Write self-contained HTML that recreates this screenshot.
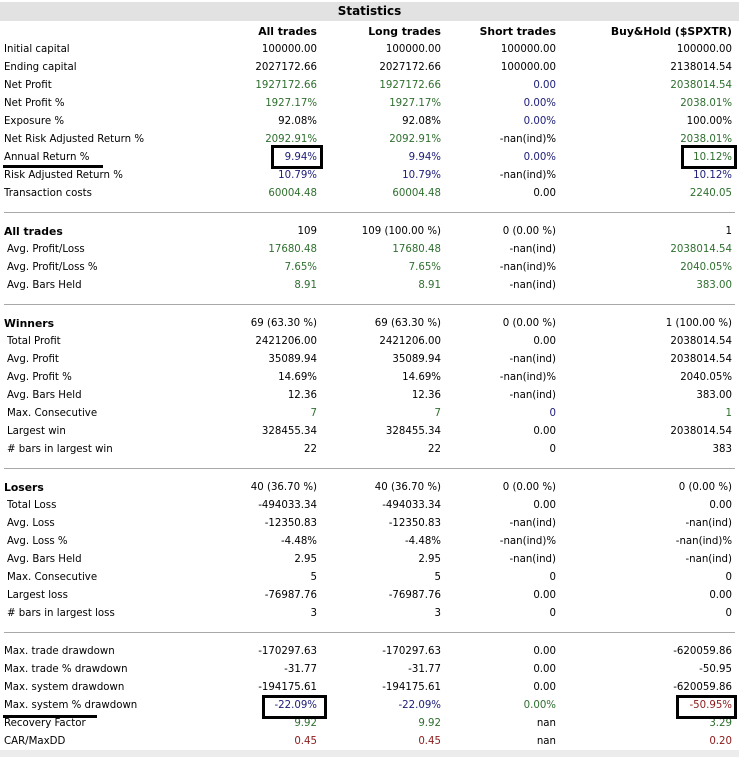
<!DOCTYPE html>
<html><head><meta charset="utf-8"><style>
body{margin:0;width:739px;height:757px;background:#fff;position:relative;overflow:hidden;font-family:"DejaVu Sans","Liberation Sans",sans-serif;font-size:10.2px;color:#000}
.r{position:absolute;left:0;width:739px;height:16px;line-height:16px}
.r span{position:absolute;white-space:nowrap}
.l{left:4px}.s{left:7px}
.a{right:422px}.b{right:298px}.c{right:183px}.d{right:7px}
.g{color:#2f6f2f}.u{color:#1c1c78}.x{color:#8a1a1a}
.bd{font-weight:bold;font-size:10.8px}
.hr{position:absolute;left:4px;width:731px;height:1px;background:#a8a8a8}
.box{position:absolute;border:3px solid #000;box-sizing:border-box}
.ul{position:absolute;height:3px;background:#000}
</style></head><body>
<div style="position:absolute;left:0;top:2px;width:739px;height:19px;background:#e2e2e2"></div>
<div style="position:absolute;left:0;top:2px;width:739px;height:19px;line-height:19px;text-align:center;font-weight:bold;font-size:12px">Statistics</div>
<div style="position:absolute;left:0;top:750px;width:739px;height:7px;background:#ececec"></div>

<div class="r bd" style="top:24px"><span class="a">All trades</span><span class="b">Long trades</span><span class="c">Short trades</span><span class="d">Buy&amp;Hold ($SPXTR)</span></div>

<div class="r" style="top:42px"><span class="l">Initial capital</span><span class="a">100000.00</span><span class="b">100000.00</span><span class="c">100000.00</span><span class="d">100000.00</span></div>
<div class="r" style="top:60px"><span class="l">Ending capital</span><span class="a">2027172.66</span><span class="b">2027172.66</span><span class="c">100000.00</span><span class="d">2138014.54</span></div>
<div class="r" style="top:78px"><span class="l">Net Profit</span><span class="a g">1927172.66</span><span class="b g">1927172.66</span><span class="c u">0.00</span><span class="d g">2038014.54</span></div>
<div class="r" style="top:96px"><span class="l">Net Profit %</span><span class="a g">1927.17%</span><span class="b g">1927.17%</span><span class="c u">0.00%</span><span class="d g">2038.01%</span></div>
<div class="r" style="top:114px"><span class="l">Exposure %</span><span class="a">92.08%</span><span class="b">92.08%</span><span class="c u">0.00%</span><span class="d">100.00%</span></div>
<div class="r" style="top:132px"><span class="l">Net Risk Adjusted Return %</span><span class="a g">2092.91%</span><span class="b g">2092.91%</span><span class="c">-nan(ind)%</span><span class="d g">2038.01%</span></div>
<div class="r" style="top:150px"><span class="l">Annual Return %</span><span class="a u">9.94%</span><span class="b u">9.94%</span><span class="c u">0.00%</span><span class="d g">10.12%</span></div>
<div class="r" style="top:168px"><span class="l">Risk Adjusted Return %</span><span class="a u">10.79%</span><span class="b u">10.79%</span><span class="c">-nan(ind)%</span><span class="d u">10.12%</span></div>
<div class="r" style="top:186px"><span class="l">Transaction costs</span><span class="a g">60004.48</span><span class="b g">60004.48</span><span class="c">0.00</span><span class="d g">2240.05</span></div>
<div class="hr" style="top:212px"></div>

<div class="r" style="top:224px"><span class="l bd">All trades</span><span class="a">109</span><span class="b">109 (100.00 %)</span><span class="c">0 (0.00 %)</span><span class="d">1</span></div>
<div class="r" style="top:242px"><span class="s">Avg. Profit/Loss</span><span class="a g">17680.48</span><span class="b g">17680.48</span><span class="c">-nan(ind)</span><span class="d g">2038014.54</span></div>
<div class="r" style="top:260px"><span class="s">Avg. Profit/Loss %</span><span class="a g">7.65%</span><span class="b g">7.65%</span><span class="c">-nan(ind)%</span><span class="d g">2040.05%</span></div>
<div class="r" style="top:278px"><span class="s">Avg. Bars Held</span><span class="a g">8.91</span><span class="b g">8.91</span><span class="c">-nan(ind)</span><span class="d g">383.00</span></div>
<div class="hr" style="top:304px"></div>

<div class="r" style="top:316px"><span class="l bd">Winners</span><span class="a">69 (63.30 %)</span><span class="b">69 (63.30 %)</span><span class="c">0 (0.00 %)</span><span class="d">1 (100.00 %)</span></div>
<div class="r" style="top:334px"><span class="s">Total Profit</span><span class="a">2421206.00</span><span class="b">2421206.00</span><span class="c">0.00</span><span class="d">2038014.54</span></div>
<div class="r" style="top:352px"><span class="s">Avg. Profit</span><span class="a">35089.94</span><span class="b">35089.94</span><span class="c">-nan(ind)</span><span class="d">2038014.54</span></div>
<div class="r" style="top:370px"><span class="s">Avg. Profit %</span><span class="a">14.69%</span><span class="b">14.69%</span><span class="c">-nan(ind)%</span><span class="d">2040.05%</span></div>
<div class="r" style="top:388px"><span class="s">Avg. Bars Held</span><span class="a">12.36</span><span class="b">12.36</span><span class="c">-nan(ind)</span><span class="d">383.00</span></div>
<div class="r" style="top:406px"><span class="s">Max. Consecutive</span><span class="a g">7</span><span class="b g">7</span><span class="c u">0</span><span class="d g">1</span></div>
<div class="r" style="top:424px"><span class="s">Largest win</span><span class="a">328455.34</span><span class="b">328455.34</span><span class="c">0.00</span><span class="d">2038014.54</span></div>
<div class="r" style="top:442px"><span class="s"># bars in largest win</span><span class="a">22</span><span class="b">22</span><span class="c">0</span><span class="d">383</span></div>
<div class="hr" style="top:468px"></div>

<div class="r" style="top:480px"><span class="l bd">Losers</span><span class="a">40 (36.70 %)</span><span class="b">40 (36.70 %)</span><span class="c">0 (0.00 %)</span><span class="d">0 (0.00 %)</span></div>
<div class="r" style="top:498px"><span class="s">Total Loss</span><span class="a">-494033.34</span><span class="b">-494033.34</span><span class="c">0.00</span><span class="d">0.00</span></div>
<div class="r" style="top:516px"><span class="s">Avg. Loss</span><span class="a">-12350.83</span><span class="b">-12350.83</span><span class="c">-nan(ind)</span><span class="d">-nan(ind)</span></div>
<div class="r" style="top:534px"><span class="s">Avg. Loss %</span><span class="a">-4.48%</span><span class="b">-4.48%</span><span class="c">-nan(ind)%</span><span class="d">-nan(ind)%</span></div>
<div class="r" style="top:552px"><span class="s">Avg. Bars Held</span><span class="a">2.95</span><span class="b">2.95</span><span class="c">-nan(ind)</span><span class="d">-nan(ind)</span></div>
<div class="r" style="top:570px"><span class="s">Max. Consecutive</span><span class="a">5</span><span class="b">5</span><span class="c">0</span><span class="d">0</span></div>
<div class="r" style="top:588px"><span class="s">Largest loss</span><span class="a">-76987.76</span><span class="b">-76987.76</span><span class="c">0.00</span><span class="d">0.00</span></div>
<div class="r" style="top:606px"><span class="s"># bars in largest loss</span><span class="a">3</span><span class="b">3</span><span class="c">0</span><span class="d">0</span></div>
<div class="hr" style="top:632px"></div>

<div class="r" style="top:644px"><span class="l">Max. trade drawdown</span><span class="a">-170297.63</span><span class="b">-170297.63</span><span class="c">0.00</span><span class="d">-620059.86</span></div>
<div class="r" style="top:662px"><span class="l">Max. trade % drawdown</span><span class="a">-31.77</span><span class="b">-31.77</span><span class="c">0.00</span><span class="d">-50.95</span></div>
<div class="r" style="top:680px"><span class="l">Max. system drawdown</span><span class="a">-194175.61</span><span class="b">-194175.61</span><span class="c">0.00</span><span class="d">-620059.86</span></div>
<div class="r" style="top:698px"><span class="l">Max. system % drawdown</span><span class="a u">-22.09%</span><span class="b u">-22.09%</span><span class="c g">0.00%</span><span class="d x">-50.95%</span></div>
<div class="r" style="top:716px"><span class="l">Recovery Factor</span><span class="a g">9.92</span><span class="b g">9.92</span><span class="c">nan</span><span class="d g">3.29</span></div>
<div class="r" style="top:734px"><span class="l">CAR/MaxDD</span><span class="a x">0.45</span><span class="b x">0.45</span><span class="c">nan</span><span class="d x">0.20</span></div>

<div class="box" style="left:271px;top:145px;width:52px;height:24px"></div>
<div class="box" style="left:681px;top:145px;width:56px;height:24px"></div>
<div class="ul" style="left:3px;top:165px;width:100px"></div>
<div class="box" style="left:262px;top:695px;width:65px;height:24px"></div>
<div class="box" style="left:676px;top:695px;width:61px;height:24px"></div>
<div class="ul" style="left:3px;top:715px;width:94px"></div>
</body></html>
